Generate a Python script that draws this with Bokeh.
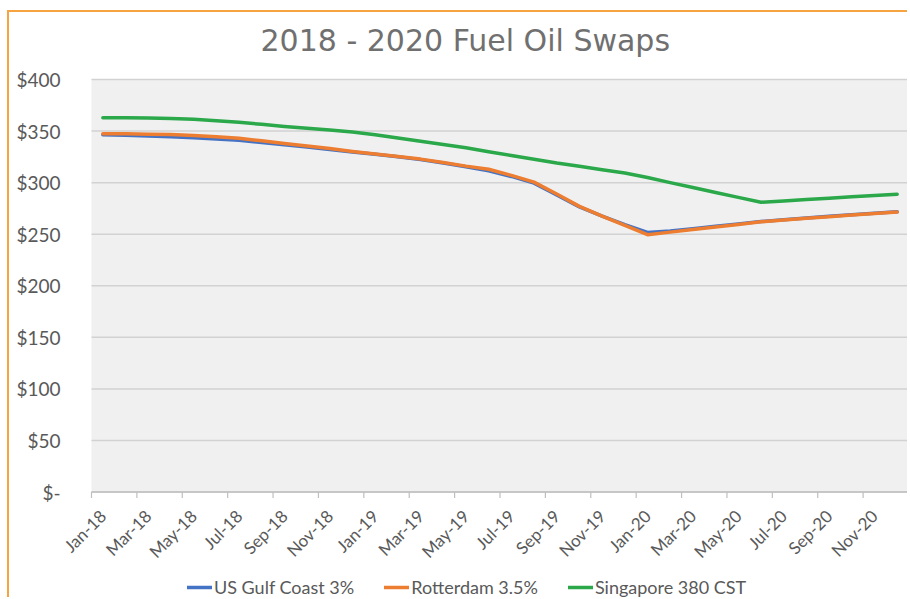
import math
from bokeh.plotting import figure
from bokeh.models import (ColumnDataSource, Range1d, FixedTicker, LinearAxis, Legend, LegendItem,
                          BoxAnnotation, Label)
from bokeh.embed import file_html
from bokeh.resources import INLINE

months = ["Jan-18", "Feb-18", "Mar-18", "Apr-18", "May-18", "Jun-18",
          "Jul-18", "Aug-18", "Sep-18", "Oct-18", "Nov-18", "Dec-18",
          "Jan-19", "Feb-19", "Mar-19", "Apr-19", "May-19", "Jun-19",
          "Jul-19", "Aug-19", "Sep-19", "Oct-19", "Nov-19", "Dec-19",
          "Jan-20", "Feb-20", "Mar-20", "Apr-20", "May-20", "Jun-20",
          "Jul-20", "Aug-20", "Sep-20", "Oct-20", "Nov-20", "Dec-20"]

us_gulf = [346.5, 346.0, 345.3, 344.5, 343.5, 342.3, 341.0, 339.0, 336.8, 334.5, 332.2, 329.8,
           327.5, 325.0, 322.3, 319.0, 315.3, 311.5, 306.0, 299.5, 288.0, 276.5, 267.5, 259.2,
           251.7, 253.0, 255.3, 257.7, 260.0, 262.3, 264.0, 265.7, 267.3, 268.8, 270.3, 271.8]

rotterdam = [347.4, 347.3, 347.0, 346.6, 345.8, 344.6, 343.0, 340.5, 338.0, 335.5, 333.0, 330.2,
             327.8, 325.3, 322.8, 319.5, 316.0, 313.0, 307.0, 300.5, 289.0, 277.0, 267.5, 258.5,
             249.5, 252.0, 254.5, 257.0, 259.5, 262.0, 263.8, 265.5, 267.0, 268.5, 270.0, 271.4]

singapore = [363.0, 362.8, 362.7, 362.3, 361.5, 360.0, 358.5, 356.5, 354.5, 352.8, 351.0, 349.0,
             346.5, 343.3, 340.1, 337.0, 333.8, 330.0, 326.3, 322.7, 319.0, 315.8, 312.5, 309.3,
             305.0, 300.0, 295.2, 290.5, 285.7, 281.0, 282.3, 283.6, 284.9, 286.2, 287.5, 288.8]

series_names = ["US Gulf Coast 3%", "Rotterdam 3.5%", "Singapore 380 CST"]
series_colors = ["#4472C4", "#ED7D31", "#2AA84A"]

y_ticks = [0, 50, 100, 150, 200, 250, 300, 350, 400]
y_tick_labels = ["$-", "$50", "$100", "$150", "$200", "$250", "$300", "$350", "$400"]

title_text = "2018 - 2020 Fuel Oil Swaps"

TEXT = "#595959"
FONT = "Lato"
AXIS_GREY = "#BFBFBF"
GRID_GREY = "#D2D2D2"

# layout (pixels)
W, H = 900, 587
LEFT_PAD = 2
LABEL_AREA = 80                 # px left of the first category (value labels live here)
TOP_PX = 67                     # space above the 400 line (title area)
PLOT_PX = 412.5                 # height of the 0..400 value band
n = len(months)
PX_PER_CAT = (W - LEFT_PAD - 1 - LABEL_AREA) / n
PX_PER_UNIT = PLOT_PX / 400.0
X_LEFT = -LABEL_AREA / PX_PER_CAT
Y_TOP = 400 + TOP_PX / PX_PER_UNIT
Y_BOTTOM = -(H - TOP_PX - PLOT_PX) / PX_PER_UNIT
TICK_LEN = 6 / PX_PER_UNIT

x = [i + 0.5 for i in range(n)]
src = ColumnDataSource(dict(x=x, us=us_gulf, rt=rotterdam, sg=singapore))

p = figure(width=W, height=H, output_backend="svg", toolbar_location=None,
           x_range=Range1d(X_LEFT, n), y_range=Range1d(Y_BOTTOM, Y_TOP), x_axis_type=None,
           min_border_left=LEFT_PAD, min_border_right=1, min_border_top=0, min_border_bottom=0)
p.styles = {"border-top": "2px solid #F5A440", "border-left": "2px solid #F5A440",
            "margin-top": "10px", "margin-left": "7px"}
p.background_fill_color = "white"
p.border_fill_color = "white"
p.outline_line_color = None

# grey plot area (value range 0..400, categories 0..n)
p.add_layout(BoxAnnotation(left=0, right=n, bottom=0, top=400, fill_color="#F0F0F0",
                           fill_alpha=1.0, line_color=None, level="image"))

# title
p.add_layout(Label(x=169 / PX_PER_CAT, y=400 + 39 / PX_PER_UNIT, text=title_text,
                   text_font="DejaVu Sans", text_font_size="30px", text_color="#707070",
                   text_align="left", text_baseline="alphabetic"))

# value axis, fixed at the first category edge
yt = FixedTicker(ticks=y_ticks, minor_ticks=[])
p.yaxis.ticker = yt
p.yaxis.fixed_location = 0
p.yaxis.major_label_overrides = dict(zip(y_ticks, y_tick_labels))
p.yaxis.axis_line_color = None
p.yaxis.major_tick_line_color = None
p.yaxis.minor_tick_line_color = None
p.yaxis.major_label_standoff = 25
p.yaxis.major_label_text_font = FONT
p.yaxis.major_label_text_font_size = "19px"
p.yaxis.major_label_text_color = TEXT
p.ygrid.grid_line_color = None

# horizontal gridlines limited to the plot area
p.segment(x0=[0] * len(y_ticks), y0=y_ticks, x1=[n] * len(y_ticks), y1=y_ticks,
          line_color=GRID_GREY, line_width=1.5)

# category axis line and tick marks at category boundaries
bounds = list(range(0, n + 1, 2))
p.segment(x0=[0], y0=[0], x1=[n], y1=[0], line_color=AXIS_GREY, line_width=1.5)
p.segment(x0=bounds, y0=[0] * len(bounds), x1=bounds, y1=[-TICK_LEN] * len(bounds),
          line_color=AXIS_GREY, line_width=1.2)

# category labels (every second month) on an axis fixed at value 0
lab_idx = list(range(0, n, 2))
lab_pos = [i + 0.5 for i in lab_idx]
ax_labels = LinearAxis(ticker=FixedTicker(ticks=lab_pos, minor_ticks=[]),
                       fixed_location=0,
                       major_label_overrides={pos: months[i] for pos, i in zip(lab_pos, lab_idx)},
                       major_label_orientation=math.pi / 4,
                       axis_line_color=None, major_tick_line_color=None,
                       major_tick_out=0, major_tick_in=0,
                       major_label_standoff=21,
                       major_label_text_font=FONT, major_label_text_font_size="17px",
                       major_label_text_color=TEXT)
p.add_layout(ax_labels, "below")

renderers = []
for col, color in zip(["us", "rt", "sg"], series_colors):
    r = p.line("x", col, source=src, line_color=color, line_width=3.5, line_join="round", line_cap="round")
    renderers.append(r)

legend = Legend(items=[LegendItem(label=nm, renderers=[r]) for nm, r in zip(series_names, renderers)],
                orientation="horizontal", location=(LABEL_AREA + 96, 1),
                border_line_color=None, background_fill_alpha=0,
                glyph_width=25, glyph_height=18, label_standoff=2, spacing=30,
                padding=0, margin=0,
                label_text_font=FONT, label_text_font_size="18px", label_text_color=TEXT)
p.add_layout(legend, "center")

open("out.html", "w").write(file_html(p, INLINE))
